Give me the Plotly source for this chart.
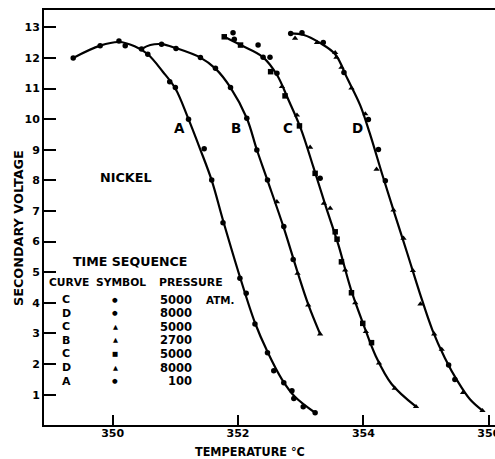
import plotly.graph_objects as go

# ---------------- data ----------------
# Curve A (100 atm) markers
A_x = [349.37, 349.80, 350.10, 350.20, 350.46, 350.56, 350.91, 351.00, 351.21, 351.46, 351.58,
       351.76, 352.03, 352.13, 352.27, 352.47, 352.57, 352.73, 352.86, 352.89, 353.04, 353.23]
A_y = [12.00, 12.40, 12.55, 12.40, 12.29, 12.12, 11.22, 11.03, 10.00, 9.03, 8.01,
       6.62, 4.80, 4.31, 3.31, 2.37, 1.78, 1.39, 1.13, 0.88, 0.61, 0.41]
A_sym = ["circle"] * len(A_x)

# Curve B (2700 atm) markers
B_x = [350.78, 351.01, 351.40, 351.64, 351.88, 352.14, 352.30, 352.47, 352.62, 352.73, 352.88,
       352.95, 353.12, 353.31]
B_y = [12.45, 12.31, 12.01, 11.66, 11.03, 10.03, 8.99, 8.01, 7.30, 6.49, 5.42,
       4.96, 3.93, 2.98]
B_sym = ["circle", "circle", "circle", "circle", "circle", "circle", "circle", "circle",
         "triangle-up", "circle", "circle", "triangle-up", "triangle-up", "triangle-up"]

# Curve C (5000 atm) markers
C_x = [351.78, 351.92, 351.94, 352.04, 352.32, 352.40, 352.51, 352.52, 352.62, 352.70, 352.75,
       352.94, 352.98, 353.15, 353.23, 353.31, 353.37, 353.47, 353.55, 353.58, 353.65, 353.71,
       353.81, 353.87, 353.99, 354.04, 354.13, 354.25, 354.50, 354.84]
C_y = [12.69, 12.82, 12.61, 12.42, 12.42, 12.02, 12.02, 11.55, 11.50, 11.06, 10.76,
       10.13, 9.78, 9.08, 8.23, 8.07, 7.25, 7.09, 6.32, 6.08, 5.34, 5.07,
       4.33, 4.00, 3.33, 3.06, 2.70, 2.03, 1.21, 0.61]
C_sym = ["square", "circle", "circle", "square", "circle", "circle", "circle", "square", "circle",
         "triangle-up", "square", "triangle-up", "square", "triangle-up", "square", "circle",
         "triangle-up", "triangle-up", "square", "square", "square", "triangle-up", "square",
         "triangle-up", "square", "triangle-up", "square", "triangle-up", "triangle-up", "triangle-up"]

# Curve D (8000 atm) markers
D_x = [352.84, 352.91, 353.02, 353.26, 353.36, 353.55, 353.57, 353.65, 353.69, 353.81, 354.03,
       354.08, 354.24, 354.21, 354.35, 354.48, 354.64, 354.79, 354.91, 355.13, 355.25, 355.36,
       355.46, 355.59, 355.90]
D_y = [12.80, 12.64, 12.82, 12.50, 12.50, 12.17, 12.02, 11.69, 11.52, 11.01, 10.17,
       9.99, 9.01, 8.36, 7.99, 7.03, 6.11, 5.05, 3.96, 2.98, 2.48, 1.97,
       1.50, 1.07, 0.48]
D_sym = ["circle", "triangle-up", "circle", "triangle-up", "circle", "triangle-up", "triangle-up",
         "triangle-up", "circle", "triangle-up", "triangle-up", "circle", "circle", "triangle-up",
         "circle", "triangle-up", "triangle-up", "triangle-up", "triangle-up", "triangle-up",
         "triangle-up", "circle", "circle", "triangle-up", "triangle-up"]

# Smooth drawn curves
A_line_x = [349.37, 349.8, 350.1, 350.35, 350.56, 350.8, 351.0, 351.2, 351.4, 351.58, 351.76,
            352.03, 352.27, 352.47, 352.7, 352.9, 353.23]
A_line_y = [12.0, 12.4, 12.52, 12.38, 12.12, 11.55, 11.0, 10.05, 9.0, 8.0, 6.7,
            4.85, 3.35, 2.4, 1.5, 0.95, 0.41]
B_line_x = [350.46, 350.6, 350.78, 351.01, 351.4, 351.64, 351.88, 352.14, 352.3, 352.47, 352.73,
            352.95, 353.12, 353.31]
B_line_y = [12.29, 12.42, 12.45, 12.32, 12.01, 11.65, 11.03, 10.03, 9.0, 8.0, 6.45,
            5.0, 3.95, 2.98]
C_line_x = [351.78, 352.04, 352.4, 352.62, 352.8, 353.0, 353.2, 353.4, 353.6, 353.8, 354.0,
            354.2, 354.45, 354.84]
C_line_y = [12.69, 12.42, 12.02, 11.45, 10.65, 9.7, 8.45, 7.15, 5.9, 4.45, 3.3,
            2.25, 1.35, 0.61]
D_line_x = [352.84, 353.05, 353.3, 353.55, 353.75, 353.95, 354.1, 354.3, 354.5, 354.7, 354.9,
            355.1, 355.3, 355.5, 355.7, 355.9]
D_line_y = [12.8, 12.75, 12.5, 12.12, 11.3, 10.45, 9.55, 8.2, 6.9, 5.62, 4.32,
            3.12, 2.2, 1.45, 0.85, 0.48]

curve_labels = ["A", "B", "C", "D"]
curve_label_x = [351.07, 351.97, 352.79, 353.9]
curve_label_y = [9.7, 9.7, 9.7, 9.7]

x_ticks = [350, 352, 354, 356]
y_ticks = list(range(1, 14))

legend_curve = ["C", "D", "C", "B", "C", "D", "A"]
legend_symbol = ["●", "●", "▲", "▲", "■", "▲", "●"]
legend_pressure = ["5000", "8000", "5000", "2700", "5000", "8000", "100"]

# ---------------- figure ----------------
W, H = 495, 459
ML, MR, MT, MB = 44, 0, 10, 34
PW, PH = W - ML - MR, H - MT - MB

def px(xp):
    return (xp - ML) / PW

def py(yp):
    return (H - MB - yp) / PH

FONT = "DejaVu Sans"
FONT_C = "DejaVu Sans Condensed, DejaVu Sans"
fig = go.Figure()

for lx, ly in [(A_line_x, A_line_y), (B_line_x, B_line_y), (C_line_x, C_line_y), (D_line_x, D_line_y)]:
    fig.add_trace(go.Scatter(x=lx, y=ly, mode="lines",
                             line=dict(color="black", width=2.2, shape="spline", smoothing=1.0),
                             hoverinfo="skip", showlegend=False))

for mx, my, ms in [(A_x, A_y, A_sym), (B_x, B_y, B_sym), (C_x, C_y, C_sym), (D_x, D_y, D_sym)]:
    fig.add_trace(go.Scatter(x=mx, y=my, mode="markers",
                             marker=dict(color="black", size=5.5, symbol=ms),
                             showlegend=False))

for t, x, y in zip(curve_labels, curve_label_x, curve_label_y):
    fig.add_annotation(x=x, y=y, xref="x", yref="y", text=t, showarrow=False,
                       font=dict(family=FONT, size=13.5, color="black", weight="bold"))


def txt(s, xp, yp, size=12, anchor="center", angle=0, fam=FONT):
    fig.add_annotation(x=px(xp), y=py(yp), xref="paper", yref="paper", text=s, showarrow=False,
                       xanchor=anchor, yanchor="middle", textangle=angle,
                       font=dict(family=fam, size=size, color="black", weight="bold"))


txt("NICKEL", 126, 178, 12.8)
txt("TIME SEQUENCE", 129.5, 261, 12.6)
txt("CURVE", 47, 282, 10.7, "left")
txt("SYMBOL", 94, 282, 10.7, "left")
txt("PRESSURE", 157, 282, 10.9, "left")
for i, (c, s, p) in enumerate(zip(legend_curve, legend_symbol, legend_pressure)):
    yy = 299.5 + 13.6 * i
    txt(c, 66, yy, 11)
    txt(s, 115, yy, 6.5)
    txt(p, 194, yy, 11.5, "right")
txt("ATM.", 204, 299.5, 10.3, "left")

# axis titles
txt("TEMPERATURE °C", 250, 451, 12.5, fam=FONT_C)
txt("SECONDARY VOLTAGE", 18, 228, 12.8, "center", -90)

fig.update_layout(
    width=W, height=H,
    margin=dict(l=ML, r=MR, t=MT, b=MB),
    paper_bgcolor="white", plot_bgcolor="white",
    showlegend=False,
    xaxis=dict(range=[348.904, 356.10], tickvals=x_ticks, ticktext=[str(v) for v in x_ticks],
               ticks="inside", ticklen=10, tickwidth=1.5, tickcolor="black",
               showline=True, linecolor="black", linewidth=2, mirror=True,
               showgrid=False, zeroline=False, ticklabeloverflow="allow",
               automargin=False, ticklabelstandoff=-3,
               tickfont=dict(family=FONT, size=11, color="black", weight="bold")),
    yaxis=dict(range=[0.0105, 13.565], tickvals=y_ticks,
               ticks="inside", ticklen=12, tickwidth=1.5, tickcolor="black",
               showline=True, linecolor="black", linewidth=2, mirror=False,
               showgrid=False, zeroline=False, automargin=False,
               tickfont=dict(family=FONT, size=11, color="black", weight="bold")),
)

fig.write_html("out.html")
